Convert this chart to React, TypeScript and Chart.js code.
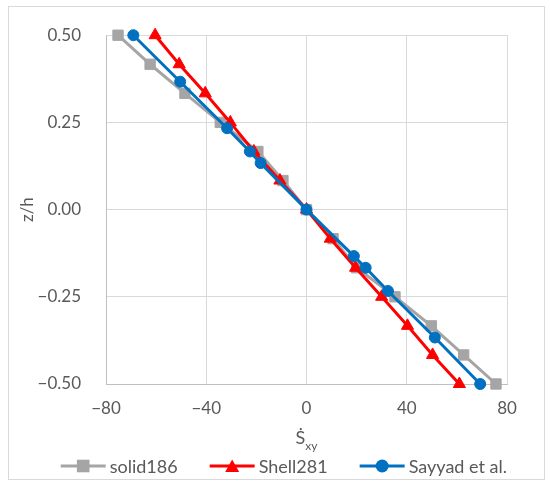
import React, { useEffect, useRef } from 'react';
import { Chart, registerables } from 'chart.js';

Chart.register(...registerables);

// ---- data ----
const zFine = [0.5, 0.4167, 0.3333, 0.25, 0.1667, 0.0833, 0, -0.0833, -0.1667, -0.25, -0.3333, -0.4167, -0.5];
const solid186 = [-75.2, -62.4, -48.5, -34.4, -19.4, -9.4, 0, 10.6, 20, 35.3, 49.8, 62.7, 75.6];
const shell281 = [-60.4, -50.8, -40.4, -30.4, -21, -10.6, 0, 9.5, 19.6, 30, 40.3, 50.3, 61];
const zSayyad = [0.5, 0.3667, 0.2333, 0.1667, 0.1333, 0, -0.1333, -0.1667, -0.2333, -0.3667, -0.5];
const sayyad = [-69.1, -50.4, -31.7, -22.6, -18.3, 0, 18.9, 23.6, 32.5, 51.2, 69.3];
const xTicks = [-80, -40, 0, 40, 80];
const yTicks = [-0.5, -0.25, 0, 0.25, 0.5];
const seriesNames = ['solid186', 'Shell281', 'Sayyad et al.'];
const seriesColors = ['#a5a5a5', '#ff0000', '#0070c0'];
const seriesMarkers = ['rect', 'triangle', 'circle'];
const xTitleMain = 'Ṡ';
const xTitleSub = 'xy';
const yTitle = 'z/h';

const FONT = 'Lato, "Open Sans", sans-serif';
const TEXT = '#595959';

const minus = (s: string) => s.replace('-', '\u2212');

const overlayPlugin = {
  id: 'overlayText',
  afterDraw(chart: any) {
    const ctx = chart.ctx as CanvasRenderingContext2D;
    const area = chart.chartArea;
    ctx.save();
    // x-axis title with subscript
    ctx.fillStyle = TEXT;
    ctx.textBaseline = 'alphabetic';
    ctx.textAlign = 'left';
    ctx.font = `18px ${FONT}`;
    const wS = ctx.measureText(xTitleMain).width;
    ctx.font = `12px ${FONT}`;
    const wX = ctx.measureText(xTitleSub).width;
    const cx = (area.left + area.right) / 2;
    const sx = cx - (wS + wX) / 2;
    ctx.font = `18px ${FONT}`;
    ctx.fillText(xTitleMain, sx, 443.5);
    ctx.font = `12px ${FONT}`;
    ctx.fillText(xTitleSub, sx + wS, 449.5);

    // legend
    const ly = 466;
    let x = 60.7;
    chart.data.datasets.forEach((ds: any, i: number) => {
      const color = ds.borderColor;
      ctx.strokeStyle = color;
      ctx.fillStyle = color;
      ctx.lineWidth = 3;
      ctx.beginPath();
      ctx.moveTo(x, ly);
      ctx.lineTo(x + 45, ly);
      ctx.stroke();
      const mx = x + 22.5;
      ctx.beginPath();
      if (seriesMarkers[i] === 'rect') {
        ctx.rect(mx - 6.3, ly - 6.3, 12.6, 12.6);
      } else if (seriesMarkers[i] === 'triangle') {
        ctx.moveTo(mx, ly - 6.5);
        ctx.lineTo(mx + 7, ly + 6);
        ctx.lineTo(mx - 7, ly + 6);
        ctx.closePath();
      } else {
        ctx.arc(mx, ly, 6.5, 0, Math.PI * 2);
      }
      ctx.fill();
      ctx.font = `18px ${FONT}`;
      ctx.fillStyle = TEXT;
      const tx = x + 45 + 4;
      ctx.fillText(ds.label, tx, 472.7);
      const tw = ctx.measureText(ds.label).width;
      x = tx + tw + 32;
    });
    ctx.restore();
  },
};

export default function App() {
  const ref = useRef<HTMLCanvasElement | null>(null);
  useEffect(() => {
    if (!ref.current) return;
    const mk = (xs: number[], zs: number[]) => xs.map((v, i) => ({ x: v, y: zs[i] }));
    const chart = new Chart(ref.current, {
      type: 'scatter',
      data: {
        datasets: [
          {
            label: seriesNames[0],
            data: mk(solid186, zFine),
            borderColor: seriesColors[0],
            backgroundColor: seriesColors[0],
            pointStyle: 'rect',
            pointRadius: 7.3,
            pointBorderWidth: 1,
            borderWidth: 3,
            showLine: true,
            clip: false,
            order: 3,
          },
          {
            label: seriesNames[1],
            data: mk(shell281, zFine),
            borderColor: seriesColors[1],
            backgroundColor: seriesColors[1],
            pointStyle: 'triangle',
            pointRadius: 7,
            pointBorderWidth: 1,
            borderWidth: 3,
            showLine: true,
            clip: false,
            order: 2,
          },
          {
            label: seriesNames[2],
            data: mk(sayyad, zSayyad),
            borderColor: seriesColors[2],
            backgroundColor: seriesColors[2],
            pointStyle: 'circle',
            pointRadius: 5.5,
            pointBorderWidth: 1,
            borderWidth: 3,
            showLine: true,
            clip: false,
            order: 1,
          },
        ],
      },
      options: {
        animation: false,
        responsive: true,
        maintainAspectRatio: false,
        layout: { padding: { left: 9, right: 43, top: 32, bottom: 0 } },
        plugins: {
          legend: { display: false },
          tooltip: { enabled: false },
        },
        scales: {
          x: {
            type: 'linear',
            position: 'bottom',
            min: -80,
            max: 80,
            afterBuildTicks: (s: any) => {
              s.ticks = xTicks.map((v) => ({ value: v }));
            },
            afterFit: (s: any) => {
              s.height = 102;
            },
            grid: { color: '#d9d9d9', lineWidth: 1, drawTicks: false },
            border: { color: '#bfbfbf', width: 1 },
            ticks: {
              padding: 14,
              color: TEXT,
              font: { family: FONT, size: 17 },
              callback: (v: any) => minus(String(v)),
            },
          },
          y: {
            type: 'linear',
            min: -0.5,
            max: 0.5,
            afterBuildTicks: (s: any) => {
              s.ticks = yTicks.map((v) => ({ value: v }));
            },
            afterFit: (s: any) => {
              s.width = 97;
            },
            grid: { color: '#d9d9d9', lineWidth: 1, drawTicks: false },
            border: { color: '#bfbfbf', width: 1 },
            ticks: {
              padding: 25,
              color: TEXT,
              font: { family: FONT, size: 17 },
              callback: (v: any) => minus(Number(v).toFixed(2)),
            },
            title: {
              display: true,
              text: yTitle,
              color: TEXT,
              font: { family: FONT, size: 17 },
              padding: { top: 8, bottom: 0 },
            },
          },
        },
      },
      plugins: [overlayPlugin],
    });
    return () => chart.destroy();
  }, []);

  return (
    <div style={{ position: 'absolute', left: 0, top: 0, width: 550, height: 486, background: '#fff' }}>
      <canvas ref={ref} />
      <div
        style={{
          position: 'absolute',
          left: 8,
          top: 6,
          width: 537,
          height: 474,
          border: '1px solid #d9d9d9',
          boxSizing: 'border-box',
          pointerEvents: 'none',
        }}
      />
    </div>
  );
}
